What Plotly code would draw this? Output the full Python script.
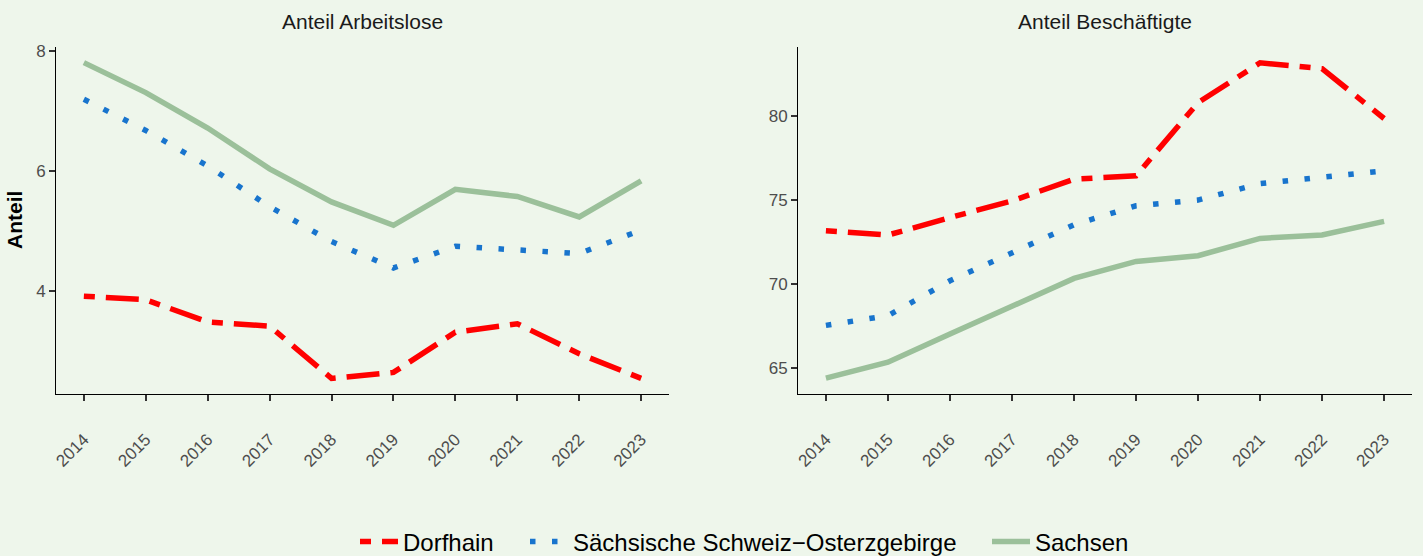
import plotly.graph_objects as go

years = [2014, 2015, 2016, 2017, 2018, 2019, 2020, 2021, 2022, 2023]
series_names = ["Dorfhain", "Sächsische Schweiz\u2212Osterzgebirge", "Sachsen"]

arbeitslose_dorfhain = [3.92, 3.86, 3.49, 3.42, 2.55, 2.65, 3.32, 3.46, 2.96, 2.55]
arbeitslose_kreis = [7.20, 6.68, 6.09, 5.41, 4.83, 4.39, 4.75, 4.70, 4.63, 5.02]
arbeitslose_sachsen = [7.81, 7.31, 6.72, 6.04, 5.49, 5.10, 5.70, 5.58, 5.24, 5.84]

beschaeftigte_dorfhain = [73.17, 72.92, 73.96, 74.95, 76.24, 76.44, 80.79, 83.16, 82.81, 79.85]
beschaeftigte_kreis = [67.55, 68.13, 70.2, 71.89, 73.53, 74.66, 75.0, 75.98, 76.38, 76.74]
beschaeftigte_sachsen = [64.41, 65.36, 67.04, 68.72, 70.34, 71.35, 71.69, 72.72, 72.92, 73.73]

panel_titles = ["Anteil Arbeitslose", "Anteil Beschäftigte"]
y_title = "Anteil"
left_ticks = [4, 6, 8]
right_ticks = [65, 70, 75, 80]

colors = ["#FF0000", "#1874CD", "#9BC09A"]
dashes = ["11px,11px,33px,11px", "5.5px,16.5px", "solid"]
widths = [5.5, 5.5, 5.5]

BG = "#EEF6EB"
FONT = "Liberation Sans"
W, H = 1423, 556

legend_ids = ["legend", "legend2", "legend3"]
legend_x_px = [355, 525, 987]

fig = go.Figure()

left_data = [arbeitslose_dorfhain, arbeitslose_kreis, arbeitslose_sachsen]
right_data = [beschaeftigte_dorfhain, beschaeftigte_kreis, beschaeftigte_sachsen]

draw_order = [2, 1, 0]
for i in draw_order:
    fig.add_trace(go.Scatter(
        x=years, y=left_data[i], mode="lines", name=series_names[i],
        line=dict(color=colors[i], width=widths[i], dash=dashes[i]),
        legendgroup=series_names[i], showlegend=True, legend=legend_ids[i],
        xaxis="x", yaxis="y"))
    fig.add_trace(go.Scatter(
        x=years, y=right_data[i], mode="lines", name=series_names[i],
        line=dict(color=colors[i], width=widths[i], dash=dashes[i]),
        legendgroup=series_names[i], showlegend=False,
        xaxis="x2", yaxis="y2"))

y_dom = [1 - 394 / H, 1 - 47 / H]
xdom1 = [56 / W, 669 / W]
xdom2 = [798 / W, 1412 / W]

def xaxis(domain, anchor):
    return dict(domain=domain, anchor=anchor, range=[2013.55, 2023.45],
                tickvals=years, ticktext=[str(y) for y in years],
                tickangle=-45, showgrid=False, zeroline=False,
                showline=True, linecolor="#000000", linewidth=1,
                ticks="outside", ticklen=6, tickwidth=1.6, tickcolor="#333333",
                tickfont=dict(family=FONT, size=17, color="#4D4D4D"),
                ticklabelstandoff=22, automargin=False)

def yaxis(domain, anchor, rng, ticks):
    return dict(domain=domain, anchor=anchor, range=rng, tickvals=ticks,
                showgrid=False, zeroline=False,
                showline=True, linecolor="#000000", linewidth=1,
                ticks="outside", ticklen=6, tickwidth=1.6, tickcolor="#333333",
                tickfont=dict(family=FONT, size=17, color="#4D4D4D"),
                automargin=False)

def legend(xpx):
    return dict(orientation="h", x=xpx / W, xanchor="left", y=1 - 542 / H, yanchor="middle",
                font=dict(family=FONT, size=24, color="#000000"),
                bgcolor="rgba(0,0,0,0)", itemwidth=38)

fig.update_layout(
    width=W, height=H,
    margin=dict(l=0, r=0, t=0, b=0, autoexpand=False),
    paper_bgcolor=BG, plot_bgcolor=BG,
    font=dict(family=FONT, color="#000000"),
    xaxis=xaxis(xdom1, "y"),
    yaxis=yaxis(y_dom, "x", [2.29, 8.07], left_ticks),
    xaxis2=xaxis(xdom2, "y2"),
    yaxis2=yaxis(y_dom, "x2", [63.47, 84.1], right_ticks),
    legend=legend(legend_x_px[0]),
    legend2=legend(legend_x_px[1]),
    legend3=legend(legend_x_px[2]),
    annotations=[
        dict(text=panel_titles[0], x=(xdom1[0] + xdom1[1]) / 2, y=1 - 22 / H,
             xref="paper", yref="paper", showarrow=False, xanchor="center", yanchor="middle",
             font=dict(family=FONT, size=21, color="#1A1A1A")),
        dict(text=panel_titles[1], x=(xdom2[0] + xdom2[1]) / 2, y=1 - 22 / H,
             xref="paper", yref="paper", showarrow=False, xanchor="center", yanchor="middle",
             font=dict(family=FONT, size=21, color="#1A1A1A")),
        dict(text="<b>" + y_title + "</b>", x=14.5 / W, y=(y_dom[0] + y_dom[1]) / 2,
             xref="paper", yref="paper", showarrow=False, textangle=-90,
             xanchor="center", yanchor="middle",
             font=dict(family=FONT, size=21, color="#000000")),
    ],
)

fig.write_html("out.html", config={"displayModeBar": False},
               post_script="document.body.style.margin='0';document.body.style.overflow='hidden';")
